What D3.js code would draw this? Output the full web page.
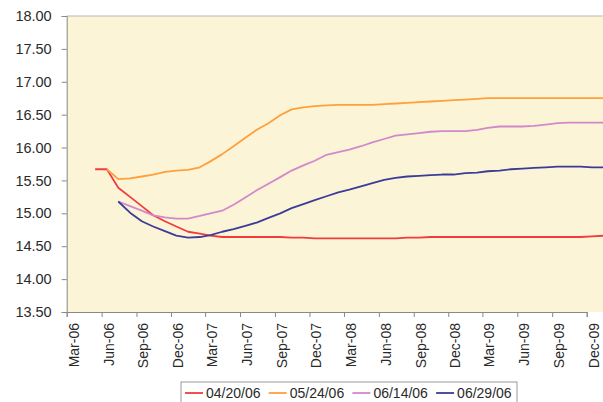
<!DOCTYPE html>
<html>
<head>
<meta charset="utf-8">
<script src="https://cdnjs.cloudflare.com/ajax/libs/d3/7.8.5/d3.min.js"></script>
<style>
  body { margin: 0; background: #ffffff; }
  svg { display: block; font-family: "Liberation Sans", Arial, sans-serif; }
</style>
</head>
<body>
<svg id="chart" width="603" height="402"></svg>
<script>
// months of the forward curves, May-06 .. Jan-10 (plotted mid-month)
var months = [
  "2006-05","2006-06","2006-07","2006-08","2006-09","2006-10","2006-11","2006-12",
  "2007-01","2007-02","2007-03","2007-04","2007-05","2007-06","2007-07","2007-08","2007-09","2007-10","2007-11","2007-12",
  "2008-01","2008-02","2008-03","2008-04","2008-05","2008-06","2008-07","2008-08","2008-09","2008-10","2008-11","2008-12",
  "2009-01","2009-02","2009-03","2009-04","2009-05","2009-06","2009-07","2009-08","2009-09","2009-10","2009-11","2009-12",
  "2010-01"
];

var curve0420 = [
  15.67,15.67,15.39,15.25,15.11,14.97,14.88,14.80,
  14.72,14.69,14.66,14.64,14.64,14.64,14.64,14.64,14.64,14.63,14.63,14.62,
  14.62,14.62,14.62,14.62,14.62,14.62,14.62,14.63,14.63,14.64,14.64,14.64,
  14.64,14.64,14.64,14.64,14.64,14.64,14.64,14.64,14.64,14.64,14.64,14.65,
  14.66
];
var curve0524 = [
  null,15.67,15.52,15.53,15.56,15.59,15.63,15.65,
  15.66,15.70,15.79,15.90,16.02,16.15,16.27,16.37,16.49,16.58,16.61,16.63,
  16.64,16.65,16.65,16.65,16.65,16.66,16.67,16.68,16.69,16.70,16.71,16.72,
  16.73,16.74,16.75,16.75,16.75,16.75,16.75,16.75,16.75,16.75,16.75,16.75,
  16.75
];
var curve0614 = [
  null,null,15.18,15.11,15.04,14.97,14.94,14.92,
  14.92,14.96,15.00,15.04,15.13,15.24,15.35,15.45,15.55,15.65,15.73,15.80,
  15.89,15.93,15.97,16.02,16.08,16.13,16.18,16.20,16.22,16.24,16.25,16.25,
  16.25,16.27,16.30,16.32,16.32,16.32,16.33,16.35,16.37,16.38,16.38,16.38,
  16.38
];
var curve0629 = [
  null,null,15.18,15.01,14.88,14.80,14.73,14.66,
  14.63,14.64,14.67,14.72,14.76,14.81,14.86,14.93,15.00,15.08,15.14,15.20,
  15.26,15.32,15.36,15.41,15.46,15.51,15.54,15.56,15.57,15.58,15.59,15.59,
  15.61,15.62,15.64,15.65,15.67,15.68,15.69,15.70,15.71,15.71,15.71,15.70,
  15.70
];

var seriesNames = ["04/20/06", "05/24/06", "06/14/06", "06/29/06"];
var seriesColors = ["#f23c3c", "#ffa03c", "#d488cc", "#3c3c98"];

var yTicks = [13.5, 14, 14.5, 15, 15.5, 16, 16.5, 17, 17.5, 18];
var xTickMonths = [
  "2006-03","2006-06","2006-09","2006-12","2007-03","2007-06","2007-09","2007-12",
  "2008-03","2008-06","2008-09","2008-12","2009-03","2009-06","2009-09","2009-12"
];

var svg = d3.select("#chart");
var plot = {left: 66.7, top: 16, right: 603, bottom: 312};

var parseMonth = d3.timeParse("%Y-%m");
var midMonth = function (s) { var d = parseMonth(s); d.setDate(15); return d; };

var xScale = d3.scaleTime()
  .domain([parseMonth("2006-03"), parseMonth("2009-12")])
  .range([plot.left, 586.7]);

var yScale = d3.scaleLinear()
  .domain([13.5, 18])
  .range([plot.bottom, plot.top]);

// plot background
svg.append("rect")
  .attr("x", plot.left)
  .attr("y", plot.top)
  .attr("width", plot.right - plot.left)
  .attr("height", plot.bottom - plot.top)
  .attr("fill", "#fbf4d7");

svg.append("line")
  .attr("x1", plot.left).attr("x2", plot.right)
  .attr("y1", plot.top).attr("y2", plot.top)
  .attr("stroke", "#b8b8b8");

// y axis
var yAxis = svg.append("g")
  .attr("transform", "translate(" + plot.left + ",0)")
  .call(d3.axisLeft(yScale).tickValues(yTicks).tickSize(5).tickPadding(10).tickFormat(d3.format(".2f")));
yAxis.select(".domain").attr("stroke", "#888");
yAxis.selectAll(".tick line").attr("stroke", "#888");
yAxis.selectAll("text")
  .attr("fill", "#2a2a2a")
  .style("font-size", "14.5px");

// x axis
var xAxis = svg.append("g")
  .attr("transform", "translate(0," + plot.bottom + ")")
  .call(d3.axisBottom(xScale).tickValues(xTickMonths.map(parseMonth)).tickSize(5).tickFormat(d3.timeFormat("%b-%y")));
xAxis.select(".domain").attr("stroke", "#888");
xAxis.selectAll(".tick line").attr("stroke", "#888");
xAxis.selectAll("text")
  .attr("transform", "rotate(-90)")
  .attr("text-anchor", "end")
  .attr("x", -11)
  .attr("y", 0)
  .attr("dy", "11.5")
  .attr("fill", "#2a2a2a")
  .style("font-size", "14px");

// lines
var allCurves = [curve0420, curve0524, curve0614, curve0629];
var line = d3.line()
  .defined(function (d) { return d.v !== null; })
  .x(function (d) { return xScale(d.date); })
  .y(function (d) { return yScale(d.v); });

svg.append("g")
  .selectAll("path")
  .data(allCurves)
  .enter()
  .append("path")
  .attr("d", function (vals) {
    return line(vals.map(function (v, i) { return {date: midMonth(months[i]), v: v}; }));
  })
  .attr("fill", "none")
  .attr("stroke", function (d, i) { return seriesColors[i]; })
  .attr("stroke-width", 1.8)
  .attr("stroke-linejoin", "round");

// legend
var legend = svg.append("g").attr("transform", "translate(181,382)");
legend.append("rect")
  .attr("x", 0).attr("y", 0)
  .attr("width", 336).attr("height", 30)
  .attr("fill", "#ffffff")
  .attr("stroke", "#999");

var items = legend.selectAll("g.item")
  .data(seriesNames)
  .enter()
  .append("g")
  .attr("class", "item")
  .attr("transform", function (d, i) { return "translate(" + (4 + i * 83.7) + ",0)"; });

items.append("line")
  .attr("x1", 0).attr("x2", 18)
  .attr("y1", 11).attr("y2", 11)
  .attr("stroke", function (d, i) { return seriesColors[i]; })
  .attr("stroke-width", 1.8);

items.append("text")
  .attr("x", 21)
  .attr("y", 16)
  .attr("fill", "#2a2a2a")
  .style("font-size", "14px")
  .text(function (d) { return d; });
</script>
</body>
</html>
